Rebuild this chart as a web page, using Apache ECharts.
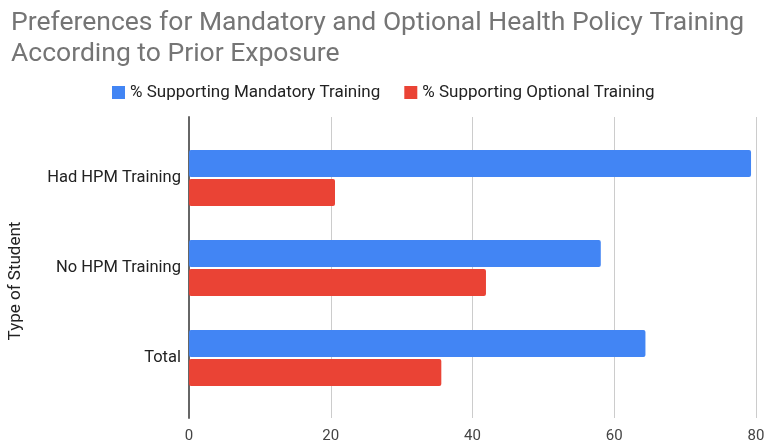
<!DOCTYPE html>
<html>
<head>
<meta charset="utf-8">
<script src="https://cdn.jsdelivr.net/npm/echarts@6/dist/echarts.min.js"></script>
<style>
  html, body { margin: 0; padding: 0; background: #fff; }
  #chart { width: 767px; height: 448px; }
</style>
</head>
<body>
<div id="chart"></div>
<script>
// categories from top to bottom
const categories = ["Had HPM Training", "No HPM Training", "Total"];
const seriesNames = ["% Supporting Mandatory Training", "% Supporting Optional Training"];
const mandatory = [79.3, 58.1, 64.4];
const optional = [20.6, 41.9, 35.6];
const xTicks = [0, 20, 40, 60, 80];

const titleLines = ["Preferences for Mandatory and Optional Health Policy Training", "According to Prior Exposure"];
const yAxisTitle = "Type of Student";

let myChart = echarts.init(document.getElementById("chart"));
const font = "Roboto, Arial, sans-serif";

let option = {
    animation: false,
    title: {
        text: titleLines.join("\n"),
        left: 6,
        top: 3,
        textStyle: { fontFamily: font, fontSize: 26.5, fontWeight: "normal", color: "#757575", lineHeight: 31 },
    },
    legend: {
        left: 107,
        top: 79,
        itemWidth: 13,
        itemHeight: 13,
        itemGap: 24,
        icon: "rect",
        textStyle: { fontFamily: font, fontSize: 17, color: "#222" },
        data: seriesNames,
    },
    // grid 0 only draws the long axis line, grid lines and ticks; grid 1 holds the bars
    grid: [
        { left: 189, right: 11, top: 117, bottom: 30, outerBoundsMode: "none" },
        { left: 189, right: 11, top: 133, bottom: 45, outerBoundsMode: "none" },
    ],
    xAxis: [
        {
            gridIndex: 0,
            type: "value",
            min: xTicks[0],
            max: xTicks[xTicks.length - 1],
            interval: 20,
            axisLine: { show: false },
            axisTick: { show: false },
            splitLine: { lineStyle: { color: "#cccccc", width: 1 } },
            axisLabel: { fontFamily: font, fontSize: 15, color: "#444", margin: 11 },
        },
        {
            gridIndex: 1,
            type: "value",
            min: xTicks[0],
            max: xTicks[xTicks.length - 1],
            show: false,
        },
    ],
    yAxis: [
        {
            gridIndex: 0,
            type: "value",
            min: 0,
            max: 1,
            axisLine: { show: true, lineStyle: { color: "#666", width: 2 } },
            axisTick: { show: false },
            axisLabel: { show: false },
            splitLine: { show: false },
        },
        {
            gridIndex: 1,
            type: "category",
            inverse: true,
            data: categories,
            axisLine: { show: false },
            axisTick: { show: false },
            splitLine: { show: false },
            axisLabel: { fontFamily: font, fontSize: 16.5, color: "#222", margin: 8 },
        },
    ],
    graphic: [
        {
            type: "text",
            x: 16,
            y: 281,
            rotation: Math.PI / 2,
            style: {
                text: yAxisTitle,
                fontFamily: font,
                fontSize: 17,
                fill: "#222",
                align: "center",
                verticalAlign: "middle",
            },
        },
    ],
    series: [
        {
            name: seriesNames[0],
            type: "bar",
            xAxisIndex: 1,
            yAxisIndex: 1,
            data: mandatory,
            barWidth: 27,
            barGap: "8%",
            itemStyle: { color: "#4285F4", borderRadius: 2 },
        },
        {
            name: seriesNames[1],
            type: "bar",
            xAxisIndex: 1,
            yAxisIndex: 1,
            data: optional,
            barWidth: 27,
            barGap: "8%",
            itemStyle: { color: "#EA4335", borderRadius: 2 },
        },
    ],
};
myChart.setOption(option, true);
</script>
</body>
</html>
